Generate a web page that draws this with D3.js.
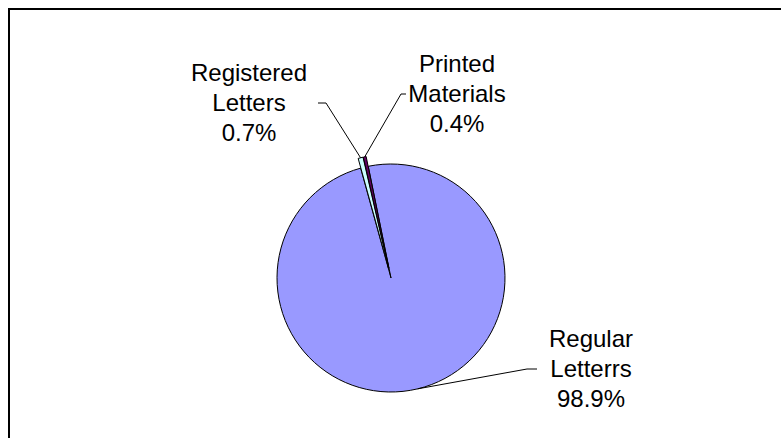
<!DOCTYPE html>
<html>
<head>
<meta charset="utf-8">
<script src="https://cdn.jsdelivr.net/npm/d3@7"></script>
<style>
  html, body { margin: 0; padding: 0; background: #fff; }
  svg { display: block; }
  text { font-family: "Liberation Sans", Arial, sans-serif; font-size: 24px; fill: #000; }
</style>
</head>
<body>
<svg id="chart" width="781" height="438"></svg>
<script>
// ---- data ----
const categories = ["Regular Letterrs", "Registered Letters", "Printed Materials"];
const labelLines = [["Regular", "Letterrs"], ["Registered", "Letters"], ["Printed", "Materials"]];
const values = [98.9, 0.7, 0.4];
const colors = ["#9999FF", "#CCFFFF", "#660066"];

// ---- layout ----
const W = 781, H = 438;
const cx = 391, cy = 278, R = 114;
const startDeg = -11.5;
const explode = [0, 10, 10];
// label layout: text center x, first baseline y, line step; elbow point and label-side end of leader
const labelLayout = [
  { x: 591, y: 347, step: 30, elbow: [527, 369], end: [537, 369] },
  { x: 249, y: 80.5, step: 30, elbow: [326, 103], end: [318, 103] },
  { x: 457, y: 72, step: 30, elbow: [401, 94], end: [406, 94] }
];

const svg = d3.select("#chart");

// outer border
svg.append("rect")
  .attr("x", 9).attr("y", 9)
  .attr("width", W + 20).attr("height", H + 20)
  .attr("fill", "none").attr("stroke", "#000").attr("stroke-width", 2);

const total = d3.sum(values);
const start = startDeg * Math.PI / 180;
const pie = d3.pie().sort(null).startAngle(start).endAngle(start + 2 * Math.PI);
const arcs = pie(values);
const arc = d3.arc().innerRadius(0).outerRadius(R);

const g = svg.append("g").attr("transform", `translate(${cx},${cy})`);

function offset(d, i) {
  const m = (d.startAngle + d.endAngle) / 2;
  return [Math.sin(m) * explode[i], -Math.cos(m) * explode[i]];
}

g.selectAll("path.slice")
  .data(arcs)
  .enter().append("path")
  .attr("class", "slice")
  .attr("d", arc)
  .attr("transform", (d, i) => { const o = offset(d, i); return `translate(${o[0]},${o[1]})`; })
  .attr("fill", (d, i) => colors[i])
  .attr("stroke", "#000")
  .attr("stroke-width", 1)
  .attr("stroke-linejoin", "round");

const fmt = d3.format(".1%");

// leader lines
arcs.forEach((d, i) => {
  const m = (d.startAngle + d.endAngle) / 2;
  const r = R + explode[i];
  const p0 = [cx + Math.sin(m) * r, cy - Math.cos(m) * r];
  const L = labelLayout[i];
  svg.append("polyline")
    .attr("points", [p0, L.elbow, L.end].map(p => p.join(",")).join(" "))
    .attr("fill", "none").attr("stroke", "#000").attr("stroke-width", 1);

  const lines = labelLines[i].concat([fmt(values[i] / total)]);
  const t = svg.append("text").attr("text-anchor", "middle");
  lines.forEach((s, k) => {
    t.append("tspan").attr("x", L.x).attr("y", L.y + k * L.step).text(s);
  });
});
</script>
</body>
</html>
